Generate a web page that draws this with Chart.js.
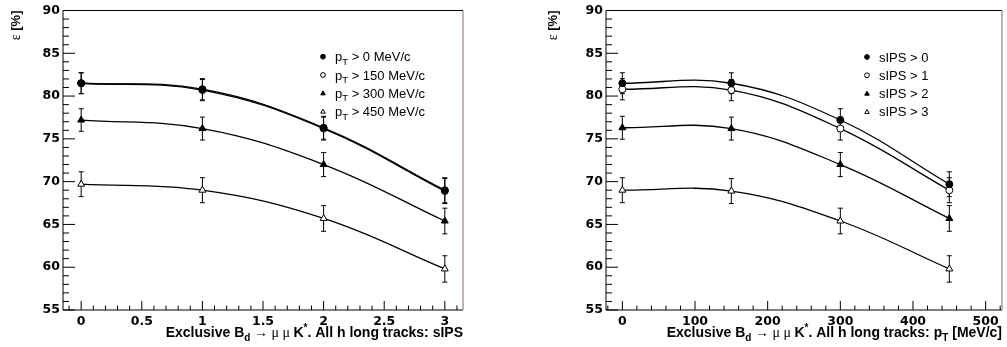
<!DOCTYPE html>
<html>
<head>
<meta charset="utf-8">
<script src="https://cdn.jsdelivr.net/npm/chart.js@4.4.0/dist/chart.umd.min.js"></script>
<style>
  body { margin: 0; background: #fff; width: 1007px; height: 347px; overflow: hidden; position: relative; }
  canvas { position: absolute; top: 0; }
</style>
</head>
<body>
<canvas id="leftChart" width="500" height="347" style="left:0"></canvas>
<canvas id="rightChart" width="507" height="347" style="left:500px"></canvas>
<script>
var sipsCuts = [0, 1, 2, 3];
var ptCuts = [0, 150, 300, 450];

// efficiency [%] for each sIPS cut, as a function of the pT cut
var effSips0 = [81.5, 81.5, 77.2, 69.7];
var effSips1 = [80.8, 80.7, 76.2, 69.0];
var effSips2 = [76.3, 76.2, 72.0, 65.7];
var effSips3 = [69.0, 68.9, 65.4, 59.8];

var errSips0 = [1.22, 1.22, 1.32, 1.45];
var errSips1 = [1.24, 1.24, 1.34, 1.46];
var errSips2 = [1.34, 1.34, 1.41, 1.50];
var errSips3 = [1.46, 1.46, 1.50, 1.54];

var yTicks = [55, 60, 65, 70, 75, 80, 85, 90];
var xTicksSips = [0, 0.5, 1, 1.5, 2, 2.5, 3];
var xTicksPt = [0, 100, 200, 300, 400, 500];

var ptLegend = ['0', '150', '300', '450'];
var sipsLegend = ['0', '1', '2', '3'];

var effRows = [effSips0, effSips1, effSips2, effSips3];
var errRows = [errSips0, errSips1, errSips2, errSips3];

var markers = [
  { style: 'circle', fill: '#000', r: 3.5 },
  { style: 'circle', fill: '#fff', r: 3.5 },
  { style: 'triangle', fill: '#000', r: 4 },
  { style: 'triangle', fill: '#fff', r: 4 }
];

var SANS = '"Liberation Sans", Arial, sans-serif';
var SERIF = '"Liberation Serif", "DejaVu Serif", serif';
var TICKF = '"DejaVu Sans", sans-serif';
var fB = 'bold 14px ' + SANS;
var fBs = 'bold 10px ' + SANS;
var fSym = '14px ' + SERIF;
var fLeg = '13px ' + SANS;
var fLegS = '9.5px ' + SANS;

function drawRich(ctx, segs, x, y, align) {
  var total = 0;
  segs.forEach(function (s) { ctx.font = s.f; s.w = ctx.measureText(s.t).width; total += s.w; });
  var cx = align === 'right' ? x - total : x;
  ctx.textAlign = 'left';
  ctx.textBaseline = 'alphabetic';
  segs.forEach(function (s) { ctx.font = s.f; ctx.fillText(s.t, cx, y + (s.dy || 0)); cx += s.w; });
}

function drawMarker(ctx, m, x, y, r) {
  ctx.beginPath();
  if (m.style === 'circle') {
    ctx.arc(x, y, r, 0, Math.PI * 2);
  } else {
    ctx.moveTo(x, y - r);
    ctx.lineTo(x + r * 0.95, y + r * 0.65);
    ctx.lineTo(x - r * 0.95, y + r * 0.65);
    ctx.closePath();
  }
  ctx.fillStyle = m.fill;
  ctx.fill();
  ctx.strokeStyle = '#000';
  ctx.lineWidth = 1;
  ctx.stroke();
}

var rootFrame = {
  id: 'rootFrame',
  beforeDatasetsDraw: function (chart) {
    var ctx = chart.ctx, ys = chart.scales.y;
    ctx.save();
    ctx.strokeStyle = '#000';
    ctx.lineWidth = 1;
    chart.data.datasets.forEach(function (ds, i) {
      var meta = chart.getDatasetMeta(i);
      ds.data.forEach(function (p, j) {
        var x = meta.data[j].x;
        var y1 = ys.getPixelForValue(p.y + ds.errors[j]);
        var y2 = ys.getPixelForValue(p.y - ds.errors[j]);
        ctx.beginPath();
        ctx.moveTo(x, y1); ctx.lineTo(x, y2);
        ctx.moveTo(x - 2.5, y1); ctx.lineTo(x + 2.5, y1);
        ctx.moveTo(x - 2.5, y2); ctx.lineTo(x + 2.5, y2);
        ctx.stroke();
      });
    });
    ctx.restore();
  },
  afterDraw: function (chart, args, opts) {
    var ctx = chart.ctx, a = chart.chartArea;
    var xs = chart.scales.x, ys = chart.scales.y;
    ctx.save();
    ctx.strokeStyle = '#000';
    ctx.lineWidth = 1;
    // y ticks, inside
    for (var v = ys.min; v <= ys.max + 1e-9; v += 1) {
      var py = ys.getPixelForValue(v);
      var len = Math.abs(v % 5) < 1e-6 ? 12 : 6;
      ctx.beginPath(); ctx.moveTo(a.left, py); ctx.lineTo(a.left + len, py); ctx.stroke();
    }
    // x ticks, inside
    var st = opts.minorStep, mj = opts.majorStep;
    for (var k = Math.ceil(xs.min / st); k * st <= xs.max; k++) {
      var xv = k * st;
      var px = xs.getPixelForValue(xv);
      var r = xv / mj;
      var l2 = Math.abs(r - Math.round(r)) < 1e-6 ? 9 : 4.5;
      ctx.beginPath(); ctx.moveTo(px, a.bottom); ctx.lineTo(px, a.bottom - l2); ctx.stroke();
    }
    // frame
    ctx.beginPath();
    ctx.moveTo(a.left, a.top); ctx.lineTo(a.left, a.bottom); ctx.lineTo(a.right, a.bottom);
    ctx.moveTo(a.left, a.top); ctx.lineTo(a.right, a.top);
    ctx.stroke();
    ctx.strokeStyle = '#806a6a';
    ctx.beginPath(); ctx.moveTo(a.right, a.top); ctx.lineTo(a.right, a.bottom); ctx.stroke();

    ctx.fillStyle = '#000';
    // x title
    drawRich(ctx, opts.xTitle, a.right, 337, 'right');
    // y title
    ctx.save();
    ctx.translate(opts.yTitleX, a.top);
    ctx.rotate(-Math.PI / 2);
    drawRich(ctx, [{ t: '\u03b5', f: fSym }, { t: ' [%]', f: 'bold 13px ' + SANS }], 0, 0, 'right');
    ctx.restore();
    // legend
    opts.legend.forEach(function (segs, i) {
      var cy = opts.legY + i * 18.3;
      drawMarker(ctx, markers[i], opts.legMX, cy, 2.4);
      ctx.fillStyle = '#000';
      drawRich(ctx, segs, opts.legTX, cy + 4.5, 'left');
    });
    ctx.restore();
  }
};

function makeDatasets(xs, series, errs) {
  return series.map(function (ys, i) {
    var m = markers[i];
    return {
      data: xs.map(function (x, j) { return { x: x, y: ys[j] }; }),
      errors: errs[i],
      borderColor: '#000',
      borderWidth: 1.3,
      tension: 0.4,
      fill: false,
      pointStyle: m.style,
      pointRadius: m.r,
      pointBackgroundColor: m.fill,
      pointBorderColor: '#000',
      pointBorderWidth: 1
    };
  });
}

function makeChart(id, xs, series, errs, xMin, xMax, xTickVals, yAxisW, padRight, frameOpts) {
  return new Chart(document.getElementById(id), {
    type: 'line',
    data: { datasets: makeDatasets(xs, series, errs) },
    plugins: [rootFrame],
    options: {
      responsive: false,
      animation: false,
      devicePixelRatio: 1,
      layout: { padding: { top: 10, right: padRight, left: 0, bottom: 0 } },
      plugins: { legend: { display: false }, tooltip: { enabled: false }, rootFrame: frameOpts },
      scales: {
        x: {
          type: 'linear', min: xMin, max: xMax,
          grid: { display: false, drawTicks: false },
          border: { display: false },
          afterBuildTicks: function (s) { s.ticks = xTickVals.map(function (v) { return { value: v }; }); },
          afterFit: function (s) { s.height = 37; },
          ticks: {
            padding: 4, color: '#000', maxRotation: 0, autoSkip: false,
            font: { family: TICKF, size: 12.5, weight: 'bold' },
            callback: function (v) { return String(+v.toFixed(2)); }
          }
        },
        y: {
          type: 'linear', min: 55, max: 90,
          grid: { display: false, drawTicks: false },
          border: { display: false },
          afterBuildTicks: function (s) { s.ticks = yTicks.map(function (v) { return { value: v }; }); },
          afterFit: function (s) { s.width = yAxisW; },
          ticks: {
            padding: 3, color: '#000',
            font: { family: TICKF, size: 12.5, weight: 'bold' },
            callback: function (v) { return String(v); }
          }
        }
      }
    }
  });
}

// left panel: x = sIPS, one series per pT cut (columns of the table)
var leftSeries = ptCuts.map(function (_, c) { return effRows.map(function (row) { return row[c]; }); });
var leftErrs = ptCuts.map(function (_, c) { return errRows.map(function (row) { return row[c]; }); });

var titleHead = [
  { t: 'Exclusive B', f: fB },
  { t: 'd', f: fBs, dy: 4 },
  { t: ' \u2192 \u03bc \u03bc ', f: fSym },
  { t: 'K', f: fB },
  { t: '*', f: fBs, dy: -6 },
  { t: '. All h long tracks: ', f: fB }
];

makeChart('leftChart', sipsCuts, leftSeries, leftErrs, -0.15, 3.15, xTicksSips, 63, 37, {
  minorStep: 0.1, majorStep: 0.5,
  xTitle: titleHead.concat([{ t: 'sIPS', f: fB }]),
  yTitleX: 19.5,
  legMX: 323, legTX: 335, legY: 56.7,
  legend: ptLegend.map(function (p) {
    return [{ t: 'p', f: fLeg }, { t: 'T', f: fLegS, dy: 3.5 }, { t: ' > ' + p + ' MeV/c', f: fLeg }];
  })
});

// right panel: x = pT, one series per sIPS cut
makeChart('rightChart', ptCuts, effRows, errRows, -22.5, 522.5, xTicksPt, 106, 3, {
  minorStep: 20, majorStep: 100,
  xTitle: titleHead.map(function (s) { return Object.assign({}, s); }).concat([
    { t: 'p', f: fB }, { t: 'T', f: fBs, dy: 4 }, { t: ' [MeV/c]', f: fB }
  ]),
  yTitleX: 56.5,
  legMX: 367, legTX: 379, legY: 57,
  legend: sipsLegend.map(function (s) { return [{ t: 'sIPS > ' + s, f: fLeg }]; })
});
</script>
</body>
</html>
